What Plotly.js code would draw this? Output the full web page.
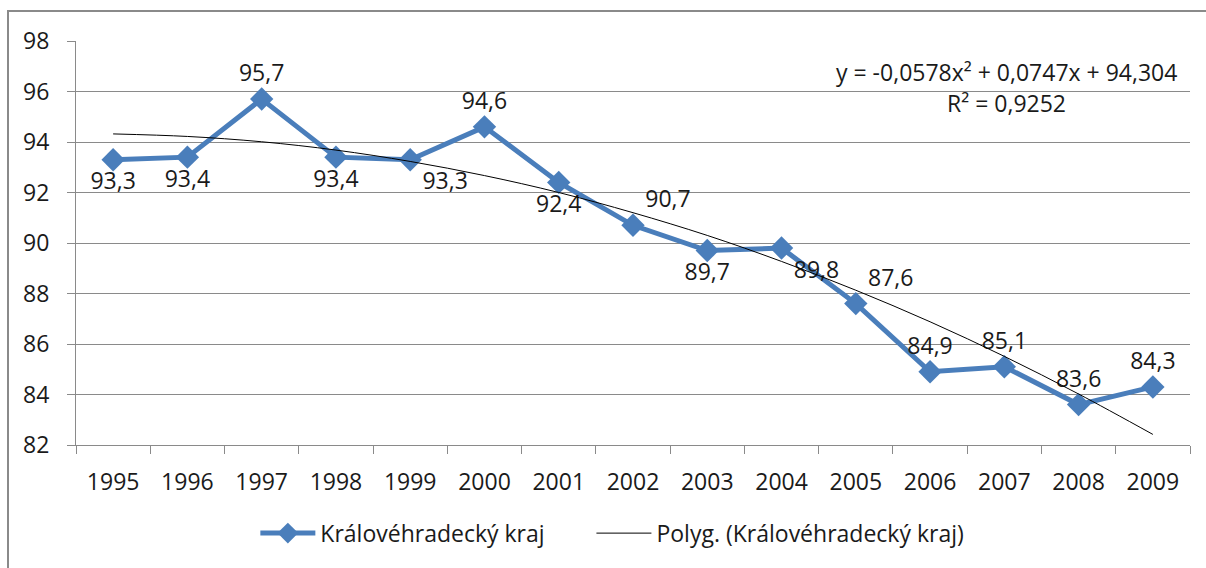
<!DOCTYPE html>
<html>
<head>
<meta charset="utf-8">
<script src="https://cdn.plot.ly/plotly-3.0.1.min.js"></script>
<style>
  html, body { margin: 0; padding: 0; background: #fff; overflow: hidden; }
  #wrap { position: relative; width: 1206px; height: 568px; }
  #chart { position: absolute; left: 0; top: 0; width: 1206px; height: 568px; }
  #frame { position: absolute; left: 7px; top: 10px; width: 1300px; height: 700px;
           border-top: 2px solid #8a8a8a; border-left: 2px solid #8a8a8a; pointer-events: none; }
</style>
</head>
<body>
<div id="wrap">
  <div id="chart"></div>
  <div id="frame"></div>
</div>
<script>
const years = ['1995','1996','1997','1998','1999','2000','2001','2002','2003','2004','2005','2006','2007','2008','2009'];
const values = [93.3, 93.4, 95.7, 93.4, 93.3, 94.6, 92.4, 90.7, 89.7, 89.8, 87.6, 84.9, 85.1, 83.6, 84.3];
const trendValues = [94.32, 94.22, 94.01, 93.68, 93.23, 92.67, 92.00, 91.20, 90.30, 89.27, 88.13, 86.88, 85.51, 84.02, 82.42];
const labelPositions = ['bottom center','bottom center','top center','bottom center','bottom right',
  'top center','bottom center','top right','bottom center','bottom right',
  'top right','top center','top center','top center','top center'];
const seriesName = 'Královéhradecký kraj';
const trendName = 'Polyg. (Královéhradecký kraj)';
const equationText = 'y = -0,0578x² + 0,0747x + 94,304';
const r2Text = 'R² = 0,9252';
const yTicks = [82, 84, 86, 88, 90, 92, 94, 96, 98];

const FONT = '"Open Sans", Lato, sans-serif';
const FS = 23;
const TXT = '#1a1a1a';
const labels = values.map(v => v.toFixed(1).replace('.', ','));
const legendPad = '\u00a0'.repeat(7);

const traces = [
  {
    x: years, y: values, name: seriesName + legendPad, type: 'scatter', mode: 'lines+markers+text',
    line: { color: '#4A7EBB', width: 5 },
    marker: { symbol: 'diamond', size: 18, color: '#4A7EBB' },
    text: labels, textposition: labelPositions,
    textfont: { family: FONT, size: FS, color: TXT },
    cliponaxis: false, hoverinfo: 'x+y'
  },
  {
    x: years, y: trendValues, name: trendName, type: 'scatter', mode: 'lines',
    line: { color: '#000', width: 1, shape: 'spline' },
    hoverinfo: 'skip'
  }
];

const layout = {
  width: 1206, height: 568,
  margin: { l: 76, r: 16, t: 41, b: 123 },
  paper_bgcolor: '#fff', plot_bgcolor: '#fff',
  font: { family: FONT, size: FS, color: TXT },
  showlegend: true,
  legend: { orientation: 'h', x: 0.161, xanchor: 'left', y: -0.165, yanchor: 'top',
            itemwidth: 55,
            font: { family: FONT, size: FS, color: TXT }, traceorder: 'normal' },
  xaxis: {
    type: 'category', range: [-0.5, 14.5], tickson: 'boundaries',
    ticks: 'outside', ticklen: 8, tickcolor: '#8a8a8a', tickwidth: 1,
    showline: true, linecolor: '#8a8a8a', linewidth: 1,
    showgrid: false, zeroline: false,
    tickfont: { family: FONT, size: FS, color: TXT }, ticklabelstandoff: 16
  },
  yaxis: {
    range: [82, 98], tickvals: yTicks, ticktext: yTicks.map(String),
    ticks: 'outside', ticklen: 8, tickcolor: '#8a8a8a', tickwidth: 1,
    showline: true, linecolor: '#8a8a8a', linewidth: 1,
    showgrid: true, gridcolor: '#8a8a8a', gridwidth: 1, zeroline: false,
    tickfont: { family: FONT, size: FS, color: TXT }, ticklabelstandoff: 13
  },
  annotations: [
    { xref: 'paper', yref: 'paper', x: 0.8357, y: 0.923, text: equationText, showarrow: false,
      xanchor: 'center', yanchor: 'middle', font: { family: FONT, size: FS, color: TXT } },
    { xref: 'paper', yref: 'paper', x: 0.8357, y: 0.846, text: r2Text, showarrow: false,
      xanchor: 'center', yanchor: 'middle', font: { family: FONT, size: FS, color: TXT } }
  ]
};

Plotly.newPlot('chart', traces, layout, { displayModeBar: false, staticPlot: true });
</script>
</body>
</html>
